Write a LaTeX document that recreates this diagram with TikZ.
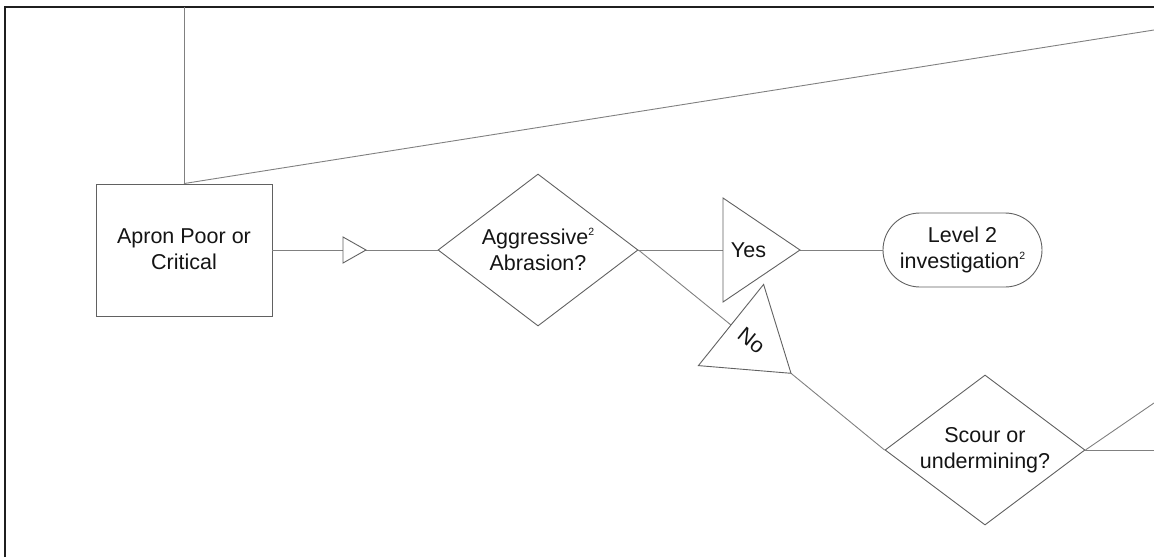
\documentclass[tikz,border=0pt]{standalone}
\usepackage{fontspec}
\setmainfont{Liberation Sans}
\usetikzlibrary{shapes.geometric}
\newcommand\supnum[1]{\raisebox{8.5pt}{\fontsize{10.5}{10.5}\selectfont #1}}
\tikzset{
 shapeline/.style={draw=black!62, line width=0.9pt},
 conn/.style={draw=black!50, line width=0.9pt},
 lbl/.style={font=\fontsize{21.5}{26}\selectfont, align=center, inner sep=0pt, text=black!92},
 frameline/.style={draw=black!88, line width=2pt},
 decision/.style={shapeline, diamond, inner sep=0pt, minimum width=200pt},
}
\begin{document}
\begin{tikzpicture}[x=1pt,y=-1pt]
\useasboundingbox (0,0) rectangle (1154,557);
\draw[frameline] (5,557) -- (5,7) -- (1154,7);
% nodes
\node[shapeline, rectangle, minimum width=176pt, minimum height=132pt, inner sep=0pt] (box) at (184,250) {};
\node[lbl] (boxt) at (184,249) {Apron Poor or\\Critical};
\node[decision, minimum height=152pt] (d1) at (538,250) {};
\node[lbl] (d1t) at (538,249.5) {Aggressive\supnum{2}\\Abrasion?};
\node[shapeline, rectangle, rounded corners=37pt, minimum width=159pt, minimum height=74pt, inner sep=0pt] (lv) at (962.5,250) {};
\node[lbl] (lvt) at (962.5,249.5) {Level 2\\investigation\supnum{2}};
\node[decision, minimum height=150pt] (d2) at (985,450) {};
\node[lbl] (d2t) at (985,450) {Scour or\\undermining?};
% coordinates
\coordinate (topin) at (184,7);
\coordinate (offR) at (1154,30);
\coordinate (offR2) at (1154,450);
\coordinate (offR3) at (1154,403);
\coordinate (ab) at (343,250);
\coordinate (aa) at (366,250);
\coordinate (yb) at (723,250);
\coordinate (ya) at (800,250);
\coordinate (nb) at (731,325);
\coordinate (na) at (791,373.3);
% connectors
\draw[conn] (topin) -- (box.north);
\draw[conn] (box.north) -- (offR);
\draw[conn] (box.east) -- (d1.west);
\draw[conn] (d1.east) -- (yb);
\draw[conn] (ya) -- (lv.west);
\draw[conn] (d1.east) -- (nb);
\draw[conn] (na) -- (d2.west);
\draw[conn] (d2.east) -- (offR2);
\draw[conn] (d2.east) -- (offR3);
% triangles
\draw[shapeline, fill=white] (343,237) -- (aa) -- (343,263) -- cycle;
\draw[shapeline, fill=white] (723,198) -- (ya) -- (723,302) -- cycle;
\draw[shapeline, fill=white] (763.6,284.4) -- (na) -- (698.4,365.6) -- cycle;
\node[lbl] (yest) at (748.5,250) {Yes};
\node[lbl, rotate=-38.8] (not) at (751.5,340.5) {No};
\end{tikzpicture}
\end{document}
